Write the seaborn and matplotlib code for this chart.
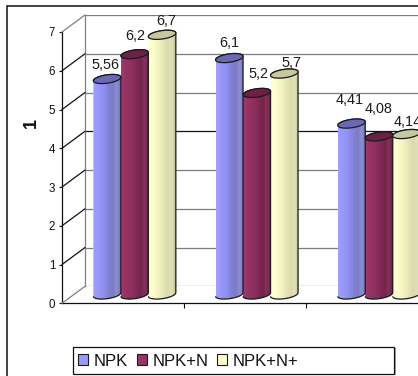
import numpy as np
import pandas as pd
import matplotlib
matplotlib.use("Agg")
import matplotlib.pyplot as plt
from matplotlib.colors import LinearSegmentedColormap
from matplotlib.patches import ConnectionPatch, PathPatch, Rectangle
from matplotlib.path import Path
import seaborn as sns

# Data
groups = ["1", "2", "3"]
treatments = ["NPK", "NPK+N", "NPK+N+"]
npk = [5.56, 6.1, 4.41]
npk_n = [6.2, 5.2, 4.08]
npk_n_plus = [6.7, 5.7, 4.14]
value_labels = [["5,56", "6,1", "4,41"], ["6,2", "5,2", "4,08"], ["6,7", "5,7", "4,14"]]

# Label nudges in points, same order as value_labels
label_nudges = [
    [(-1.5, 10), (0, 11), (-1, 17)],
    [(0.5, 13), (1, 14), (0, 20)],
    [(3, 10), (5, 7.5), (1, 9)],
]

sns.set_theme(style="white")
plt.rcParams["font.family"] = ["Liberation Sans", "DejaVu Sans"]

W, H = 418, 376
fig = plt.figure(figsize=(W / 100, H / 100), dpi=100, facecolor="white")


def plane_axes(dx, dy):
    """Axes for one depth plane, shifted dx right and dy up in pixels."""
    rect = [(62 + dx) / W, (H - 303.3 + dy) / H, 366.6 / W, 271.3 / H]
    ax = fig.add_axes(rect)
    ax.set_xlim(-0.5, 2.5)
    ax.set_ylim(0, 7)
    ax.patch.set_visible(False)
    return ax


# Outer chart frame, running past the right and bottom edges
fig.add_artist(Rectangle((6.5 / W, -0.1), 1.2, 1.1 - 5.5 / H, transform=fig.transFigure,
                         fill=False, ec="#111111", lw=1.1))

# Back wall with gridlines
back = plane_axes(23, 17)
back.set_xticks([])
back.set_yticks(range(8))
back.set_yticklabels([])
back.tick_params(left=False)
back.grid(axis="y", color="#7c7c7c", lw=0.9)
back.yaxis.get_gridlines()[4].set_color("#111111")
for name, spine in back.spines.items():
    spine.set_visible(name == "left")
    spine.set_color("#808080")
    spine.set_linewidth(0.9)

# Front plane carrying the value axis and baseline
front = plane_axes(0, 0)
front.set_xticks([0.5, 1.5, 2.5])
front.set_xticklabels([])
front.set_yticks(range(8))
front.tick_params(axis="y", length=2.5, width=0.8, color="#111111", labelsize=8.3,
                  pad=2.5, labelcolor="#111111", left=True)
front.tick_params(axis="x", length=3.5, width=0.8, color="#111111", bottom=True)
for name, spine in front.spines.items():
    spine.set_visible(name in ("left", "bottom"))
    spine.set_color("#111111")
    spine.set_linewidth(0.9)
front.set_ylabel("1", fontsize=13, fontweight="bold", color="#111111")
front.yaxis.set_label_coords((40 - 62) / 366.6, (303.3 - 123) / 271.3)

# Side wall and floor edges joining the front plane to the back wall
for level in range(8):
    fig.add_artist(ConnectionPatch((-0.5, level), (-0.5, level), "data", "data",
                                   axesA=front, axesB=back, lw=0.9,
                                   color="#808080" if level in (0, 7) else "#111111"))

# Bars stand on the mid-depth plane
table = pd.DataFrame({
    "group": groups * 3,
    "treatment": np.repeat(treatments, 3),
    "value": npk + npk_n + npk_n_plus,
})
bars = plane_axes(11.5, 8.8)
palette = ["#9999FF", "#993366", "#FFFFCC"]
sns.barplot(data=table, x="group", y="value", hue="treatment", hue_order=treatments,
            palette=palette, saturation=1, width=0.675, gap=0, ax=bars)
bars.set_xlim(-0.5, 2.5)
bars.set_ylim(0, 7)
bars.set_xlabel("")
bars.set_ylabel("")
bars.set_xticks([])
bars.set_yticks([])
sns.despine(ax=bars, left=True, bottom=True)

# Horizontal shading across each cylinder, left edge to right edge
shades = [
    ["#A0A0FF", "#9999FF", "#9494F6", "#8C8CEA", "#8080D2", "#7C7CC4", "#8E8ED8", "#7070AE"],
    ["#A03C6E", "#993366", "#933062", "#8C2E5E", "#7E2952", "#74254C", "#88305E", "#62203F"],
    ["#FFFFD2", "#FFFFCC", "#F8F8C6", "#EEEEBE", "#E4E4B6", "#DADAAE", "#E2E2B8", "#BCBC94"],
]
cap_colors = ["#6A6AB4", "#6B2045", "#C8C8A0"]
gradient = np.linspace(0, 1, 128).reshape(1, -1)
cap_half = 4.2 / 38.76
tilt = 1.8 / 38.76
theta = np.linspace(0, 2 * np.pi, 80)

rectangles = sorted((p for p in bars.patches if p.get_height() > 0), key=lambda p: p.get_x())
for rect in rectangles:
    x0, w, h = rect.get_x(), rect.get_width(), rect.get_height()
    cx = x0 + w / 2
    i = int(round(cx))
    series = int(round((x0 - (i - 0.3375)) / (0.675 / 3)))
    # Cylinder outline: top rim, right side, bottom rim, left side
    t_up = np.linspace(np.pi, 0, 40)
    t_low = np.linspace(0, -np.pi, 40)
    xs = np.r_[cx + w / 2 * np.cos(t_up), cx + w / 2 * np.cos(t_low)]
    ys = np.r_[h + cap_half * np.sin(t_up) + tilt * np.cos(t_up),
               cap_half * np.sin(t_low) + tilt * np.cos(t_low)]
    body = PathPatch(Path(np.c_[xs, ys]), transform=bars.transData, fc="none", ec="none")
    bars.add_patch(body)
    rect.set_clip_path(body)
    shade = LinearSegmentedColormap.from_list("shade", shades[series])
    image = bars.imshow(gradient, extent=(x0, x0 + w, -0.2, h + 0.2), cmap=shade,
                        aspect="auto", zorder=3)
    image.set_clip_path(body)
    image.set_clip_box(fig.bbox)
    bars.add_patch(PathPatch(Path(np.c_[xs, ys]), transform=bars.transData, fc="none",
                             ec="#1a1a1a", lw=0.9, zorder=4, clip_on=False))
    bars.fill(cx + w / 2 * np.cos(theta), h + cap_half * np.sin(theta) + tilt * np.cos(theta),
              fc=cap_colors[series], ec="#1a1a1a", lw=0.9, zorder=4, clip_on=False)
    bars.annotate(value_labels[series][i], (cx, h), xytext=label_nudges[series][i],
                  textcoords="offset points", ha="center", va="center", fontsize=10.4,
                  color="#1a1a1a", zorder=6, annotation_clip=False)
bars.set_xlim(-0.5, 2.5)
bars.set_ylim(0, 7)

# Legend box with its soft shadow, then the entries
fig.add_artist(Rectangle((73.8 / W, 1 - 375.2 / H), 322 / W, 27 / H, transform=fig.transFigure,
                         fc="#a8a8a8", ec="none", zorder=-2))
fig.add_artist(Rectangle((72.5 / W, 1 - 374 / H), 322 / W, 27 / H, transform=fig.transFigure,
                         fc="white", ec="#111111", lw=0.9, zorder=-1))
sns.move_legend(bars, loc="center left", bbox_to_anchor=(78 / W, 1 - 361 / H),
                bbox_transform=fig.transFigure, ncol=3, frameon=False, title=None,
                fontsize=12, handlelength=0.6, handleheight=0.6, handletextpad=0.36,
                columnspacing=0.5, borderpad=0, borderaxespad=0)
legend = bars.get_legend()
for handle in legend.get_patches():
    handle.set_edgecolor("#1a1a1a")
    handle.set_linewidth(0.8)
for label in legend.get_texts():
    label.set_color("#111111")

fig.savefig("out.png", dpi=100)
